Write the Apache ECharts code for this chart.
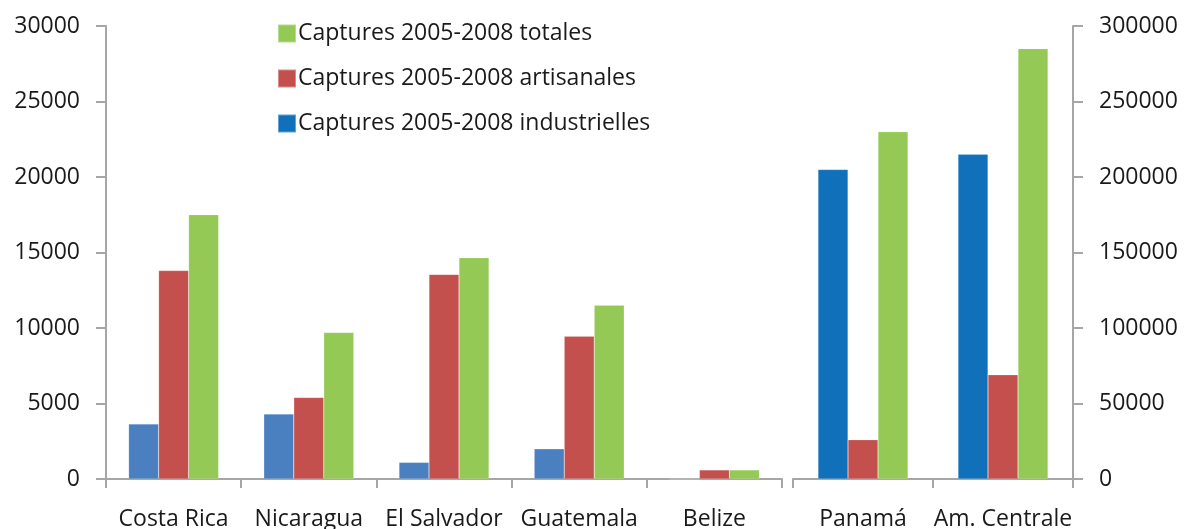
<!DOCTYPE html>
<html>
<head>
<meta charset="utf-8">
<script src="https://cdn.jsdelivr.net/npm/echarts@6/dist/echarts.min.js"></script>
<style>
  html, body { margin: 0; padding: 0; background: #ffffff; }
  #chart { width: 1185px; height: 529px; }
</style>
</head>
<body>
<div id="chart"></div>
<script>
// Countries on the left axis (tonnes), aggregates on the right axis (tonnes)
const countriesLeft = ['Costa Rica', 'Nicaragua', 'El Salvador', 'Guatemala', 'Belize'];
const countriesRight = ['Panamá', 'Am. Centrale'];

const industrielLeft = [3650, 4300, 1100, 2000, 0];
const artisanalLeft = [13800, 5400, 13550, 9450, 600];
const totalLeft = [17500, 9700, 14650, 11500, 600];

const industrielRight = [205000, 215000];
const artisanalRight = [26000, 69000];
const totalRight = [230000, 285000];

const leftTicks = { min: 0, max: 30000, interval: 5000 };
const rightTicks = { min: 0, max: 300000, interval: 50000 };

const NAME_IND = 'Captures 2005-2008 industrielles';
const NAME_ART = 'Captures 2005-2008 artisanales';
const NAME_TOT = 'Captures 2005-2008 totales';

const C_IND_LEFT = '#4A80C0';
const C_IND_RIGHT = '#1170BA';
const C_ART = '#C4504E';
const C_TOT = '#93C954';

const FONT = '"Open Sans", "Noto Sans", sans-serif';
const TEXT = '#1a1a1a';
const AXIS = '#A6A6A6';
const FS = 23;

const axisLine = { show: true, lineStyle: { color: AXIS, width: 2 } };

function xAxis(grid, data) {
  return {
    type: 'category',
    gridIndex: grid,
    data: data,
    axisLine: axisLine,
    axisTick: { show: true, length: 9, lineStyle: { color: AXIS, width: 2 } },
    axisLabel: { color: TEXT, fontFamily: FONT, fontSize: FS, margin: 29, interval: 0 },
    splitLine: { show: false }
  };
}

function yAxis(grid, pos, t) {
  return {
    type: 'value',
    gridIndex: grid,
    position: pos,
    min: t.min, max: t.max, interval: t.interval,
    axisLine: axisLine,
    axisTick: { show: true, length: 10, lineStyle: { color: AXIS, width: 2 } },
    axisLabel: {
      color: TEXT, fontFamily: FONT, fontSize: FS, margin: 26,
      formatter: function (v) { return String(v); }
    },
    splitLine: { show: false }
  };
}

function bar(name, xi, data, color) {
  return {
    name: name,
    type: 'bar',
    xAxisIndex: xi,
    yAxisIndex: xi,
    data: data,
    barWidth: 30,
    barGap: '0%',
    itemStyle: { color: color, borderColor: 'rgba(255,255,255,0.35)', borderWidth: 0.5 },
    emphasis: { disabled: true }
  };
}

const chart = echarts.init(document.getElementById('chart'), null, { renderer: 'canvas' });
chart.setOption({
  animation: false,
  backgroundColor: '#ffffff',
  textStyle: { fontFamily: FONT },
  grid: [
    { left: 106, right: 403, top: 26, bottom: 50, outerBoundsMode: 'none', containLabel: false },
    { left: 793, right: 112, top: 26, bottom: 50, outerBoundsMode: 'none', containLabel: false }
  ],
  legend: {
    orient: 'vertical',
    left: 272,
    top: 17,
    itemWidth: 18,
    itemHeight: 18,
    itemGap: 22,
    icon: 'rect',
    textStyle: { color: TEXT, fontFamily: FONT, fontSize: FS, padding: [0, 0, 0, -3] },
    data: [
      { name: NAME_TOT, itemStyle: { color: C_TOT } },
      { name: NAME_ART, itemStyle: { color: C_ART } },
      { name: NAME_IND, itemStyle: { color: C_IND_RIGHT } }
    ]
  },
  xAxis: [xAxis(0, countriesLeft), xAxis(1, countriesRight)],
  yAxis: [yAxis(0, 'left', leftTicks), yAxis(1, 'right', rightTicks)],
  series: [
    bar(NAME_IND, 0, industrielLeft, C_IND_LEFT),
    bar(NAME_ART, 0, artisanalLeft, C_ART),
    bar(NAME_TOT, 0, totalLeft, C_TOT),
    bar(NAME_IND, 1, industrielRight, C_IND_RIGHT),
    bar(NAME_ART, 1, artisanalRight, C_ART),
    bar(NAME_TOT, 1, totalRight, C_TOT)
  ]
});
</script>
</body>
</html>
